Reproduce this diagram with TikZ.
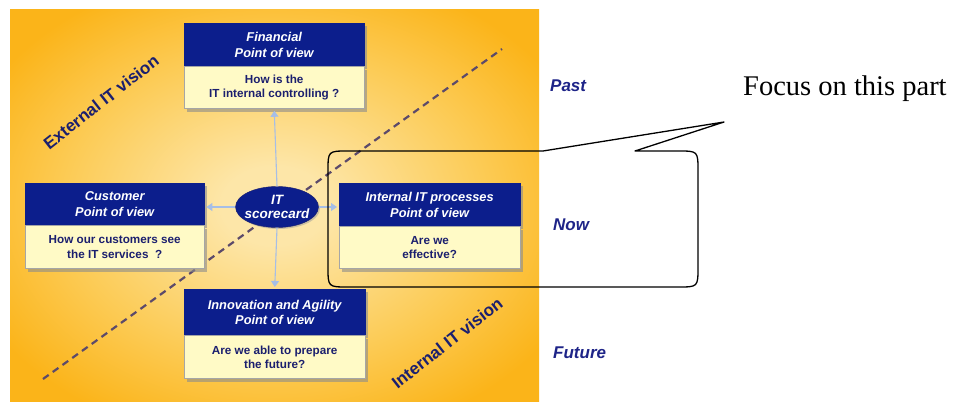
\documentclass[tikz,border=0pt]{standalone}
\usepackage{fontspec}
\setmainfont{Liberation Serif}
\newfontfamily\arialf{Liberation Sans}
\usetikzlibrary{arrows.meta,shapes.geometric,shadows}
\definecolor{navyhdr}{HTML}{0C1E8C}
\definecolor{navytxt}{HTML}{1B1F6E}
\definecolor{labtxt}{HTML}{1E2488}
\definecolor{bodyfill}{HTML}{FFFAC6}
\definecolor{arrowblue}{HTML}{A6BEE6}
\definecolor{dashcol}{HTML}{5C4A6A}
\definecolor{panlight}{HTML}{FDE6A8}
\definecolor{panmid}{HTML}{FCCB55}
\definecolor{panorange}{HTML}{FBB419}
\pgfdeclareradialshading{panelshade}{\pgfpoint{0bp}{0bp}}{color(0bp)=(panlight); color(5bp)=(panlight); color(20bp)=(panmid); color(31bp)=(panorange); color(50bp)=(panorange)}
\tikzset{
  hdr/.style={draw=navyhdr, fill=navyhdr, text=white, align=center, inner sep=0pt,
    font=\arialf\bfseries\itshape\fontsize{12.8}{15.5}\selectfont,
    drop shadow={shadow xshift=3pt, shadow yshift=-3pt, fill=black!45, opacity=0.6}},
  bdy/.style={draw=black!35, fill=bodyfill, text=navytxt, align=center, inner sep=0pt,
    font=\arialf\bfseries\fontsize{11.7}{14.5}\selectfont,
    drop shadow={shadow xshift=3pt, shadow yshift=-3pt, fill=black!45, opacity=0.6}},
  scard/.style={ellipse, draw=navytxt, fill=navyhdr, minimum width=83pt, minimum height=41pt, inner sep=0pt,
    drop shadow={shadow xshift=1.5pt, shadow yshift=-1.5pt, fill=black!40, opacity=0.5}},
  sctext/.style={text=white, align=center, inner sep=0pt, font=\arialf\bfseries\itshape\fontsize{13.5}{14.5}\selectfont},
  flow/.style={draw=arrowblue, line width=1.1pt, -{Triangle[width=8pt,length=6pt]}, shorten >=2pt},
  vision/.style={text=navytxt, font=\arialf\bfseries\fontsize{17}{20}\selectfont, rotate=38},
  timelab/.style={text=labtxt, anchor=west, inner sep=0pt, font=\arialf\bfseries\itshape\fontsize{17}{20}\selectfont},
  callout/.style={draw=black, line width=1.3pt, line join=round},
  focus/.style={text=black, inner sep=0pt, font=\fontsize{28.5}{32}\selectfont},
  dashline/.style={draw=dashcol, line width=2.2pt, dash pattern=on 7pt off 5pt}
}
\begin{document}
\begin{tikzpicture}[x=1pt, y=-1pt]
\useasboundingbox (0,0) rectangle (959,404);
\fill[white] (0,0) rectangle (959,404);
\shade[shading=panelshade] (10,10) rectangle (539,401);

% dashed diagonal
\coordinate (dA) at (43,379);
\coordinate (dB) at (502,49);
\draw[dashline] (dA) -- (dB);

% vision labels
\node[vision] (ext) at (101,102) {External IT vision};
\node[vision] (int) at (447,343) {Internal IT vision};

% Financial
\node[hdr, minimum width=180pt, minimum height=43pt, anchor=north west] (finH) at (184,23) {Financial\\Point of view};
\node[bdy, minimum width=180pt, minimum height=42pt, anchor=north] (finB) at (finH.south) {How is the\\IT internal controlling ?};
% Customer
\node[hdr, minimum width=179pt, minimum height=42pt, anchor=north west] (cusH) at (25,183) {Customer\\Point of view};
\node[bdy, minimum width=179pt, minimum height=43pt, anchor=north] (cusB) at (cusH.south) {How our customers see\\the IT services\ \ ?};
% Internal IT processes
\node[hdr, minimum width=181pt, minimum height=43pt, anchor=north west] (proH) at (339,183) {Internal IT processes\\Point of view};
\node[bdy, minimum width=181pt, minimum height=42pt, anchor=north] (proB) at (proH.south) {Are we\\effective?};
% Innovation
\node[hdr, minimum width=181pt, minimum height=46pt, anchor=north west] (innH) at (184,289) {Innovation and Agility\\Point of view};
\node[bdy, minimum width=181pt, minimum height=43pt, anchor=north] (innB) at (innH.south) {Are we able to prepare\\the future?};

% scorecard
\node[scard] (sc) at (277,207) {};
\node[sctext] (sct) at (sc.center) {IT\\scorecard};

% arrows
\draw[flow] (sc.north) -- (finB.south);
\draw[flow] (sc.south) -- (innH.north);
\draw[flow] (sc.west) -- (sc.west -| cusH.east);
\draw[flow] (sc.east) -- (sc.east -| proH.west);

% time labels
\node[timelab] (past) at (550,86) {Past};
\node[timelab] (now) at (553,225) {Now};
\node[timelab] (fut) at (553,353) {Future};

% callout
\coordinate (t1) at (543,151);
\coordinate (tip) at (724,122);
\coordinate (t2) at (635,151);
\draw[callout] (t1) -- (tip) -- (t2) -- (678,151) .. controls (698,151) .. (698,171)
  -- (698,267) .. controls (698,287) .. (678,287) -- (348,287) .. controls (328,287) .. (328,267)
  -- (328,171) .. controls (328,151) .. (348,151) -- cycle;
\node[focus, anchor=west] (foc) at (743,89) {Focus on this part};
\end{tikzpicture}
\end{document}
